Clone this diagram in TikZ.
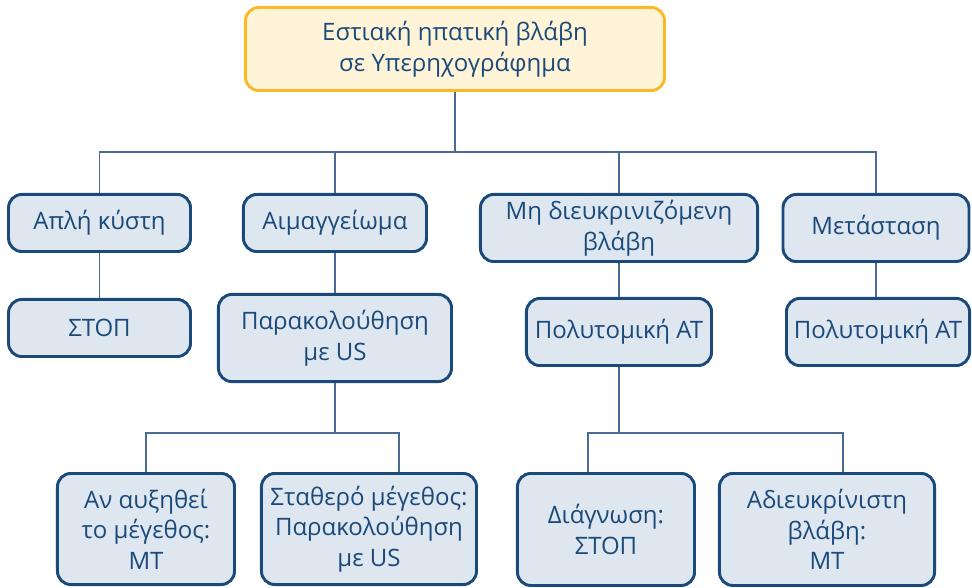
\documentclass[tikz,border=0pt]{standalone}
\usepackage{fontspec}
\setmainfont{Open Sans}
\usepackage{xcolor}
\usepackage{tikz}
\usetikzlibrary{positioning}
\definecolor{navyblue}{RGB}{27, 74, 122}
\definecolor{paleblue}{RGB}{222, 231, 240}
\definecolor{linkblue}{RGB}{72, 108, 148}
\definecolor{softamber}{RGB}{255, 244, 216}
\definecolor{amberline}{RGB}{250, 186, 40}

\begin{document}
\begin{tikzpicture}[node distance=30pt,
    topic/.style={rectangle, draw=amberline, fill=softamber, line width=2.2pt, rounded corners=10pt, align=center, text=navyblue, font=\fontsize{18}{23}\selectfont},
    choice/.style={rectangle, draw=navyblue, fill=paleblue, line width=2.2pt, rounded corners=10pt, align=center, text=navyblue, inner sep=2pt, font=\fontsize{18}{23}\selectfont},
    link/.style={line width=1.2pt, color=linkblue}]

    \useasboundingbox (-341.25pt,-404.25pt) rectangle (387.75pt,36.75pt);

    % Root
    \node[topic, minimum width=314.3pt, minimum height=62.3pt] (root) {Εστιακή ηπατική βλάβη\\σε Υπερηχογράφημα};

    % First level
    \node[choice, below=75.75pt of root, xshift=-266.6pt, minimum width=136.5pt, minimum height=42.8pt] (cyst) {Απλή κύστη};
    \node[choice, below=75.75pt of root, xshift=-90pt, minimum width=137.3pt, minimum height=42.8pt] (hemangioma) {Αιμαγγείωμα};
    \node[choice, below=75.75pt of root, xshift=123pt, minimum width=207.8pt, minimum height=50.3pt] (unclear) {Μη διευκρινιζόμενη\\βλάβη};
    \node[choice, below=75.75pt of root, xshift=315.75pt, minimum width=139.5pt, minimum height=50.3pt] (metastasis) {Μετάσταση};

    % Second level
    \node[choice, below=33.75pt of cyst, minimum width=136.5pt, minimum height=42.8pt] (cyst_stop) {ΣΤΟΠ};
    \node[choice, below=30pt of hemangioma, minimum width=174.8pt, minimum height=65.3pt] (hem_follow) {Παρακολούθηση\\με US};
    \node[choice, below=25.5pt of unclear, minimum width=138.8pt, minimum height=50.3pt] (unclear_ct) {Πολυτομική ΑΤ};
    \node[choice, below=25.5pt of metastasis, xshift=1.5pt, minimum width=137.3pt, minimum height=50.3pt] (meta_ct) {Πολυτομική ΑΤ};

    % Third level
    \node[choice, below=66.75pt of hem_follow, xshift=-141.75pt, minimum width=132.8pt, minimum height=83.3pt] (hem_grow) {Αν αυξηθεί\\το μέγεθος:\\ΜΤ};
    \node[choice, below=66.75pt of hem_follow, xshift=25.5pt, minimum width=161.3pt, minimum height=83.3pt] (hem_stable) {Σταθερό μέγεθος:\\Παρακολούθηση\\με US};
    \node[choice, below=78.75pt of unclear_ct, xshift=-9.75pt, minimum width=132.8pt, minimum height=84pt] (ct_diag) {Διάγνωση:\\ΣΤΟΠ};
    \node[choice, below=78.75pt of unclear_ct, xshift=156pt, minimum width=161.3pt, minimum height=84pt] (ct_open) {Αδιευκρίνιστη\\βλάβη:\\ΜΤ};

    % Branch points
    \coordinate[below=45pt of root] (split_root);
    \coordinate[below=37.5pt of hem_follow] (split_hem);
    \coordinate[below=49.5pt of unclear_ct] (split_ct);
    \coordinate (stable_in) at ([xshift=22.5pt]hem_stable.north);
    \coordinate (diag_in) at ([xshift=-13.5pt]ct_diag.north);
    \coordinate (open_in) at ([xshift=12pt]ct_open.north);

    % Connections
    \draw[link] (root.south) -- (split_root);
    \draw[link] (split_root) -| (cyst.north);
    \draw[link] (split_root) -| (hemangioma.north);
    \draw[link] (split_root) -| (unclear.north);
    \draw[link] (split_root) -| (metastasis.north);
    \draw[link] (cyst.south) -- (cyst_stop.north);
    \draw[link] (hemangioma.south) -- (hem_follow.north);
    \draw[link] (unclear.south) -- (unclear_ct.north);
    \draw[link] (metastasis.south) -- (metastasis.south |- meta_ct.north);
    \draw[link] (hem_follow.south) -- (split_hem);
    \draw[link] (split_hem) -| (hem_grow.north);
    \draw[link] (split_hem) -| (stable_in);
    \draw[link] (unclear_ct.south) -- (split_ct);
    \draw[link] (split_ct) -| (diag_in);
    \draw[link] (split_ct) -| (open_in);
\end{tikzpicture}
\end{document}
